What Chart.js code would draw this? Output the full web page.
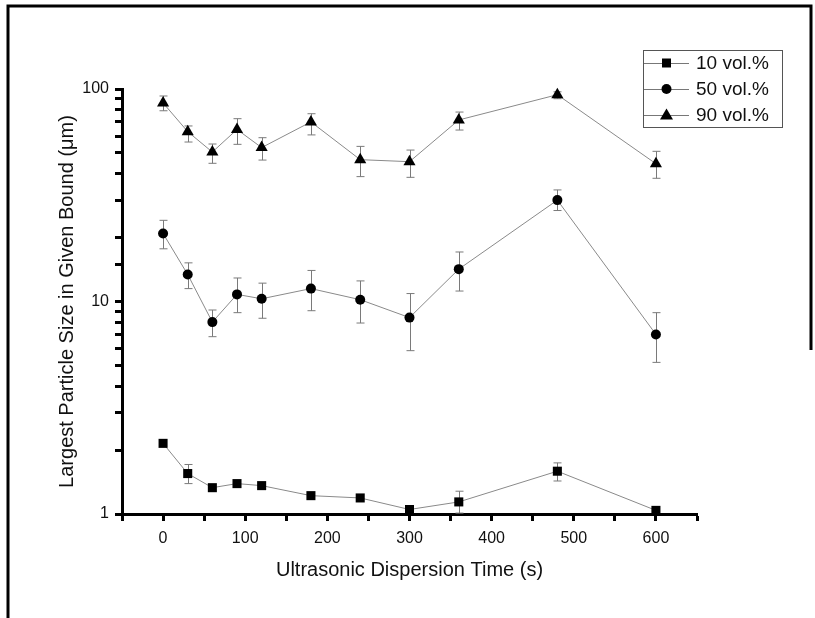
<!DOCTYPE html>
<html>
<head>
<meta charset="utf-8">
<script src="https://cdn.jsdelivr.net/npm/chart.js"></script>
<style>
body{margin:0;background:#fff}
canvas{display:block}
</style>
</head>
<body>
<canvas id="myChart" width="815" height="618"></canvas>
<script>
// dispersion times (s)
var times = [0,30,60,90,120,180,240,300,360,480,600]
var xLabels = [0,100,200,300,400,500,600]
var yLabels = [1,10,100]

// 10 vol.%
var vol10 = [2.15,1.55,1.33,1.39,1.36,1.22,1.19,1.05,1.14,1.59,1.04]
var vol10Low = [null,1.39,null,null,null,null,null,null,1.01,1.43,null]
var vol10High = [null,1.71,null,null,null,null,null,null,1.28,1.74,null]

// 50 vol.%
var vol50 = [20.9,13.4,8.0,10.8,10.3,11.5,10.2,8.4,14.2,30.0,7.0]
var vol50Low = [17.7,11.5,6.83,8.86,8.34,9.05,7.92,5.87,11.2,26.8,5.17]
var vol50High = [24.1,15.2,9.12,12.9,12.2,14.0,12.5,10.9,17.1,33.5,8.86]

// 90 vol.%
var vol90 = [86,63,50.5,64.5,53,70,46.5,45.5,71.5,94,44.5]
var vol90Low = [79,56.3,44.7,54.9,46.3,60.8,38.7,38.4,64.1,90,38]
var vol90High = [92.7,67,55.1,72.5,59,76.5,53.7,51.6,77.9,97,50.9]

var FONT = '"Liberation Sans", Arial, sans-serif'
var LINE = '#8a8a8a'

function pts(vals){
    var out = []
    for (var i = 0; i < times.length; i++) out.push({x: times[i], y: vals[i]})
    return out
}

function marker(ctx, style, x, y){
    ctx.beginPath()
    if (style == 'rect') {
        ctx.rect(x-4.5, y-4.5, 9, 9)
    } else if (style == 'circle') {
        ctx.arc(x, y, 5, 0, Math.PI*2)
    } else {
        ctx.moveTo(x, y-6.5)
        ctx.lineTo(x+6.5, y+4.5)
        ctx.lineTo(x-6.5, y+4.5)
        ctx.closePath()
    }
    ctx.fill()
}

var errorBars = {
    id: 'errorBars',
    beforeDatasetsDraw: function(chart){
        var ctx = chart.ctx
        var xs = chart.scales.x, ys = chart.scales.y
        ctx.save()
        ctx.strokeStyle = '#7a7a7a'
        ctx.lineWidth = 1
        chart.data.datasets.forEach(function(ds){
            for (var i = 0; i < times.length; i++) {
                if (ds.errLow[i] == null) continue
                var x = Math.round(xs.getPixelForValue(times[i])) + 0.5
                var y1 = ys.getPixelForValue(ds.errHigh[i])
                var y2 = ys.getPixelForValue(ds.errLow[i])
                ctx.beginPath()
                ctx.moveTo(x, y1); ctx.lineTo(x, y2)
                ctx.moveTo(x-4, y1); ctx.lineTo(x+4, y1)
                ctx.moveTo(x-4, y2); ctx.lineTo(x+4, y2)
                ctx.stroke()
            }
        })
        ctx.restore()
    }
}

var boxLegend = {
    id: 'boxLegend',
    afterDraw: function(chart){
        var ctx = chart.ctx
        ctx.save()
        ctx.strokeStyle = '#555'
        ctx.lineWidth = 1
        ctx.strokeRect(643.5, 50.5, 139, 77)
        var rows = [63, 89, 115]
        chart.data.datasets.forEach(function(ds, i){
            var y = rows[i]
            ctx.strokeStyle = '#777'
            ctx.beginPath()
            ctx.moveTo(644, y+0.5); ctx.lineTo(689, y+0.5)
            ctx.stroke()
            ctx.fillStyle = '#000'
            marker(ctx, ds.pointStyle, 666.5, y)
            ctx.font = '19px ' + FONT
            ctx.fillStyle = '#111'
            ctx.textBaseline = 'middle'
            ctx.fillText(ds.label, 696, y+1)
        })
        ctx.restore()
    }
}

var frame = {
    id: 'frame',
    afterDraw: function(chart){
        var ctx = chart.ctx
        ctx.save()
        ctx.strokeStyle = '#000'
        ctx.lineWidth = 3
        ctx.beginPath()
        ctx.moveTo(8, 618); ctx.lineTo(8, 6); ctx.lineTo(811, 6); ctx.lineTo(811, 350)
        ctx.stroke()
        ctx.restore()
    }
}

var common = {
    borderColor: LINE,
    backgroundColor: '#000',
    borderWidth: 1,
    pointBackgroundColor: '#000',
    pointBorderColor: '#000',
    pointBorderWidth: 0,
    tension: 0,
    fill: false,
    clip: false
}

var myChart = document.getElementById("myChart").getContext('2d')
var chart = new Chart(myChart, {
    type: 'line',
    data: {
        datasets: [
            Object.assign({
                label: '10 vol.%',
                data: pts(vol10),
                errLow: vol10Low, errHigh: vol10High,
                pointStyle: 'rect', pointRadius: 6.4
            }, common),
            Object.assign({
                label: '50 vol.%',
                data: pts(vol50),
                errLow: vol50Low, errHigh: vol50High,
                pointStyle: 'circle', pointRadius: 5
            }, common),
            Object.assign({
                label: '90 vol.%',
                data: pts(vol90),
                errLow: vol90Low, errHigh: vol90High,
                pointStyle: 'triangle', pointRadius: 7
            }, common)
        ]
    },
    options: {
        responsive: false,
        animation: false,
        layout: {padding: {left: 55, top: 89, right: 118, bottom: 36}},
        plugins: {
            legend: {display: false},
            tooltip: {enabled: false},
            colors: {enabled: false}
        },
        scales: {
            x: {
                type: 'linear',
                min: -50, max: 650,
                afterFit: function(s){ s.height = 68 },
                border: {display: true, width: 3, color: '#000'},
                grid: {drawOnChartArea: false, drawTicks: true, tickLength: 7, tickWidth: 3, tickColor: '#000'},
                ticks: {
                    stepSize: 50, autoSkip: false, maxRotation: 0, padding: 8,
                    color: '#111', font: {family: FONT, size: 16},
                    callback: function(v){ return xLabels.indexOf(v) >= 0 ? v : '' }
                },
                title: {
                    display: true, text: 'Ultrasonic Dispersion Time (s)',
                    color: '#111', font: {family: FONT, size: 20}, padding: 0
                }
            },
            y: {
                type: 'logarithmic',
                min: 1, max: 100,
                afterFit: function(s){ s.width = 67 },
                border: {display: true, width: 3, color: '#000'},
                grid: {drawOnChartArea: false, drawTicks: true, tickLength: 7, tickWidth: 3, tickColor: '#000'},
                ticks: {
                    autoSkip: false, padding: 6,
                    color: '#111', font: {family: FONT, size: 16},
                    callback: function(v){ return yLabels.indexOf(v) >= 0 ? String(v) : '' }
                },
                title: {
                    display: true, text: 'Largest Particle Size in Given Bound (\u03bcm)',
                    color: '#111', font: {family: FONT, size: 20}, padding: 0
                }
            }
        }
    },
    plugins: [errorBars, boxLegend, frame]
})
</script>
</body>
</html>
